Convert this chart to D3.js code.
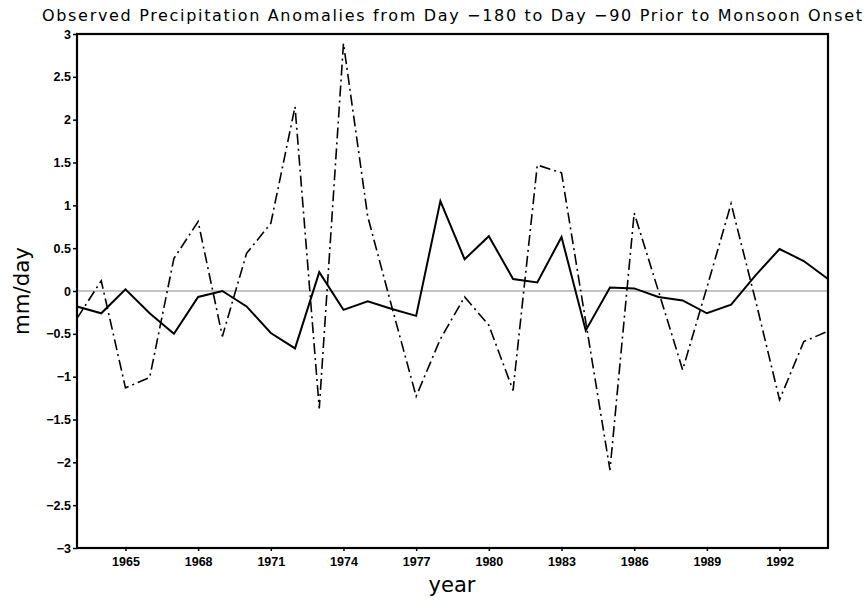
<!DOCTYPE html>
<html>
<head>
<meta charset="utf-8">
<script src="https://cdn.jsdelivr.net/npm/d3@7"></script>
<style>
  body { margin: 0; background: #fff; }
  svg { display: block; }
  .tick text { font-family: "Liberation Sans", Arial, sans-serif; font-weight: bold; font-size: 12.5px; fill: #000; }
</style>
</head>
<body>
<div id="chart"></div>
<script>
// years 1963..1994
var years = d3.range(1963, 1995);
// solid line
var solidVals = [-0.18, -0.26, 0.02, -0.26, -0.50, -0.07, 0.00, -0.18, -0.49, -0.67,
                 0.22, -0.22, -0.12, -0.21, -0.29, 1.05, 0.37, 0.64, 0.14, 0.10,
                 0.63, -0.46, 0.04, 0.03, -0.07, -0.11, -0.26, -0.16, 0.18, 0.49,
                 0.35, 0.14];
// dash-dot line
var dashVals = [-0.32, 0.12, -1.13, -1.01, 0.38, 0.81, -0.53, 0.44, 0.79, 2.15,
                -1.37, 2.89, 0.87, -0.19, -1.23, -0.56, -0.07, -0.40, -1.16, 1.47,
                1.38, -0.36, -2.09, 0.91, 0.00, -0.92, 0.04, 1.02, -0.10, -1.27,
                -0.59, -0.47];
var xTicks = [1965, 1968, 1971, 1974, 1977, 1980, 1983, 1986, 1989, 1992];
var yTicks = [-3, -2.5, -2, -1.5, -1, -0.5, 0, 0.5, 1, 1.5, 2, 2.5, 3];

var W = 865, H = 601;
var MARGIN = {top: 34, right: 37, bottom: 53, left: 77};

var oSvg = d3.select("#chart").append("svg")
  .attr("width", W).attr("height", H);

var x = d3.scaleLinear().domain([1963, 1994]).range([MARGIN.left, W - MARGIN.right]);
var y = d3.scaleLinear().domain([-3, 3]).range([H - MARGIN.bottom, MARGIN.top]);

// zero line
oSvg.append("line")
  .attr("x1", x(1963)).attr("x2", x(1994))
  .attr("y1", y(0)).attr("y2", y(0))
  .attr("stroke", "#8a8a8a").attr("stroke-width", 1.2);

// axes
var xAxis = d3.axisBottom(x).tickValues(xTicks).tickFormat(d3.format("d")).tickSize(3).tickPadding(6);
var yAxis = d3.axisLeft(y).tickValues(yTicks)
  .tickFormat(function(d) { return String(d).replace("-", "\u2212"); })
  .tickSize(4).tickPadding(2);

oSvg.append("g").attr("transform", "translate(0," + y(-3) + ")").call(xAxis)
  .call(function(g) { g.select(".domain").remove(); })
  .selectAll("line").attr("stroke", "#000").attr("stroke-width", 1.5);
oSvg.append("g").attr("transform", "translate(" + x(1963) + ",0)").call(yAxis)
  .call(function(g) { g.select(".domain").remove(); })
  .selectAll("line").attr("stroke", "#000").attr("stroke-width", 1.5);

var line = d3.line()
  .x(function(d, i) { return x(years[i]); })
  .y(function(d) { return y(d); });

oSvg.append("path")
  .attr("d", line(dashVals))
  .attr("fill", "none").attr("stroke", "#000").attr("stroke-width", 1.6)
  .attr("stroke-dasharray", "11,4,2,4");

oSvg.append("path")
  .attr("d", line(solidVals))
  .attr("fill", "none").attr("stroke", "#000").attr("stroke-width", 2);

// frame
oSvg.append("rect")
  .attr("x", x(1963)).attr("y", y(3))
  .attr("width", x(1994) - x(1963)).attr("height", y(-3) - y(3))
  .attr("fill", "none").attr("stroke", "#000").attr("stroke-width", 2.2);

// title
oSvg.append("text")
  .attr("x", 452).attr("y", 21)
  .attr("text-anchor", "middle")
  .attr("textLength", 820).attr("lengthAdjust", "spacing")
  .style("font-family", "'DejaVu Sans', sans-serif").style("font-size", "16px")
  .text("Observed Precipitation Anomalies from Day \u2212180 to Day \u221290 Prior to Monsoon Onset");

// axis titles
oSvg.append("text")
  .attr("x", 452).attr("y", 592)
  .attr("text-anchor", "middle")
  .style("font-family", "'DejaVu Sans', sans-serif").style("font-size", "21px")
  .text("year");

oSvg.append("text")
  .attr("transform", "translate(29," + y(0) + ") rotate(-90)")
  .attr("text-anchor", "middle")
  .attr("textLength", 88).attr("lengthAdjust", "spacingAndGlyphs")
  .style("font-family", "'DejaVu Sans', sans-serif").style("font-size", "22px")
  .text("mm/day");
</script>
</body>
</html>
